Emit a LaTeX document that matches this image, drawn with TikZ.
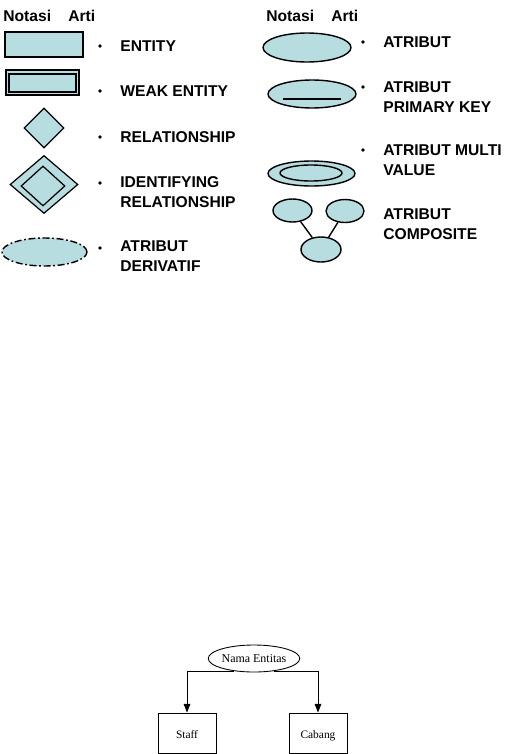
\documentclass[tikz,border=0pt]{standalone}
\usepackage{fontspec}
\setmainfont{Liberation Sans}
\newfontfamily\serifrm{Liberation Serif}
\usetikzlibrary{positioning,arrows.meta,shapes.geometric}
\definecolor{erfill}{RGB}{183,221,224}

\begin{document}
\begin{tikzpicture}[x=0.02cm,y=-0.02cm,
  lbl/.style={anchor=west,align=left,inner sep=0pt,font=\fontsize{8.9}{11.3}\selectfont\bfseries},
  shp/.style={draw=black,fill=erfill,inner sep=0pt},
  ellp/.style={shp,ellipse,line width=0.8pt},
  dmd/.style={shp,diamond,line width=0.7pt},
  box/.style={draw=black,line width=0.5pt,minimum width=1.16cm,minimum height=0.8cm,text height=1.5ex,text depth=0.4ex,font=\serifrm\fontsize{6.5}{7}\selectfont},
  arr/.style={line width=0.5pt,-{Triangle[length=5pt,width=3.8pt]}}]
\useasboundingbox (0,0) rectangle (514,754);
% headers
\node[lbl] (hnl) at (3,16) {Notasi};
\node[lbl] (hal) at (68,16) {Arti};
\node[lbl] (hnr) at (266,16) {Notasi};
\node[lbl] (har) at (331,16) {Arti};
% left column: entity, weak entity, relationships, derived attribute
\node[shp,line width=1.1pt,minimum width=1.56cm,minimum height=0.5cm] (ent) at (44,44.5) {};
\node[shp,line width=1.1pt,minimum width=1.46cm,minimum height=0.5cm] (weak) at (42.5,82.5) {};
\node[draw=black,line width=0.6pt,inner sep=0pt,minimum width=1.34cm,minimum height=0.36cm] (weakin) at (42.5,83) {};
\node[dmd,minimum width=0.8cm,minimum height=0.8cm] (rel) at (44,128) {};
\node[dmd,minimum width=1.36cm,minimum height=1.16cm] (idrel) at (44,184.5) {};
\node[draw=black,diamond,line width=0.7pt,inner sep=0pt,minimum width=0.88cm,minimum height=0.8cm] (idrelin) at (43,186) {};
\node[ellp,dash pattern=on 4pt off 1.5pt on 1pt off 1.5pt,minimum width=1.7cm,minimum height=0.56cm] (deriv) at (44.5,252) {};
\foreach \yy in {46,91,137,183,248} {\fill (100,\yy) circle (1.1pt);}
\node[lbl] (tent) at (120,46) {ENTITY};
\node[lbl] (tweak) at (120,91) {WEAK ENTITY};
\node[lbl] (trel) at (120,137) {RELATIONSHIP};
\node[lbl] (tidrel) at (120,192.5) {IDENTIFYING\\RELATIONSHIP};
\node[lbl] (tderiv) at (120,256.5) {ATRIBUT\\DERIVATIF};
% right column: attributes
\node[ellp,minimum width=1.76cm,minimum height=0.58cm] (atr) at (307,47.5) {};
\node[ellp,minimum width=1.76cm,minimum height=0.56cm] (pk) at (312,94) {};
\draw[line width=1.1pt] ([xshift=-0.58cm,yshift=-0.1cm]pk.center) -- ([xshift=0.58cm,yshift=-0.1cm]pk.center);
\node[ellp,minimum width=1.74cm,minimum height=0.5cm] (multi) at (311.5,173.5) {};
\node[draw=black,ellipse,line width=0.8pt,inner sep=0pt,minimum width=1.24cm,minimum height=0.32cm] (multiin) at (311,173) {};
\node[ellp,minimum width=0.78cm,minimum height=0.46cm] (compl) at (292.5,210.5) {};
\node[ellp,minimum width=0.76cm,minimum height=0.46cm] (compr) at (345,211) {};
\node[ellp,minimum width=0.8cm,minimum height=0.5cm] (compb) at (321,249.5) {};
\draw[line width=0.8pt] (compl) -- (compb) (compr) -- (compb);
\foreach \yy in {42,87,150} {\fill (363,\yy) circle (1.1pt);}
\node[lbl] (tatr) at (383,42) {ATRIBUT};
\node[lbl] (tpk) at (383,97) {ATRIBUT\\PRIMARY KEY};
\node[lbl] (tmulti) at (383,160.5) {ATRIBUT MULTI\\VALUE};
\node[lbl] (tcomp) at (383,224) {ATRIBUT\\COMPOSITE};
% example at the bottom
\node[draw=black,ellipse,line width=0.5pt,inner sep=0pt,minimum width=1.8cm,minimum height=0.54cm,font=\serifrm\fontsize{6.8}{7}\selectfont] (nama) at (254,658.5) {Nama Entitas};
\node[box] (staff) at (187,733) {Staff};
\node[box] (cabang) at (318,733) {Cabang};
\draw[arr] (nama.212) -| (staff);
\draw[arr] (nama.328) -| (cabang);
\end{tikzpicture}
\end{document}
